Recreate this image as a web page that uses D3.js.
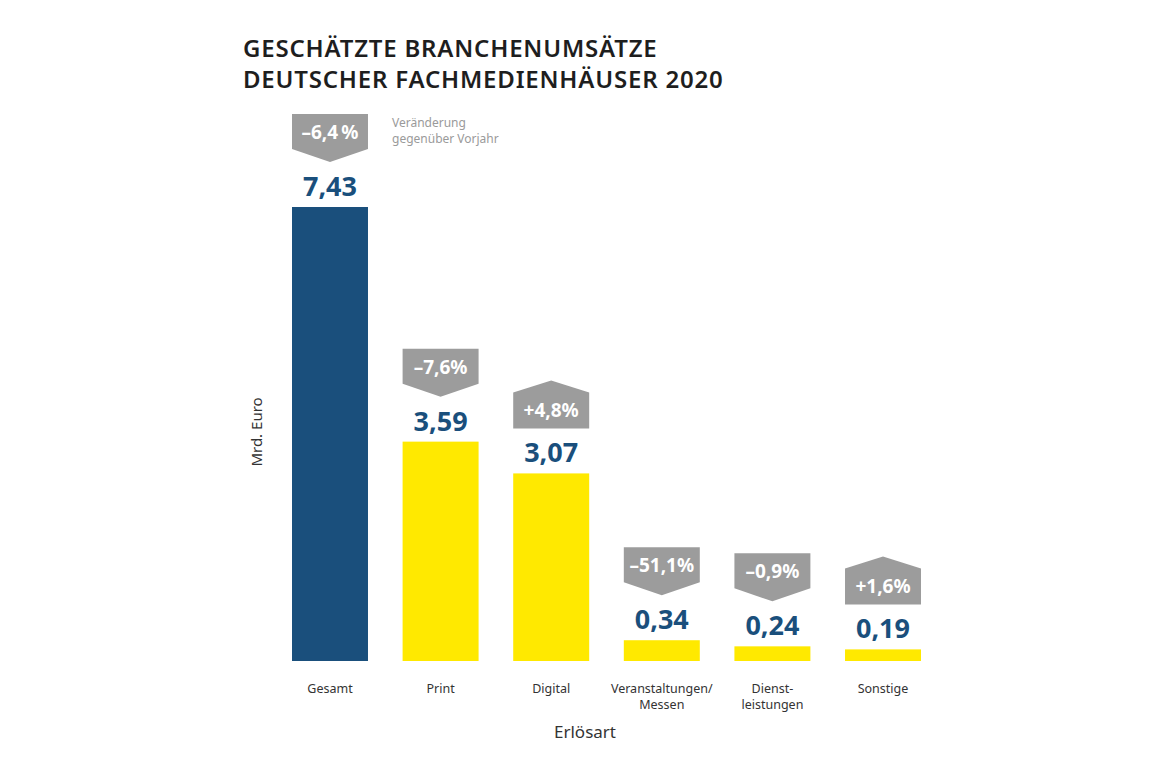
<!DOCTYPE html>
<html>
<head>
<meta charset="utf-8">
<script src="https://cdn.jsdelivr.net/npm/d3@7"></script>
<style>
	body { margin: 0; background: #fff; }
	svg { display: block; font-family: "Noto Sans", sans-serif; }
</style>
</head>
<body>
<svg id="chart" width="1172" height="768"></svg>
<script>
	var categories = [['Gesamt'], ['Print'], ['Digital'], ['Veranstaltungen/', 'Messen'], ['Dienst-', 'leistungen'], ['Sonstige']];
	var values = [7.43, 3.59, 3.07, 0.34, 0.24, 0.19];
	var changes = [-6.4, -7.6, 4.8, -51.1, -0.9, 1.6];
	var changeLabels = ['\u20136,4\u2009%', '\u20137,6%', '+4,8%', '\u201351,1%', '\u20130,9%', '+1,6%'];
	var valueLabels = ['7,43', '3,59', '3,07', '0,34', '0,24', '0,19'];

	var navy = '#1a4f7c', yellow = '#ffe900', grey = '#9c9c9c';

	var svg = d3.select('#chart');

	var x = d3.scaleBand()
		.domain(d3.range(categories.length))
		.range([292, 921])
		.paddingInner(0.313)
		.paddingOuter(0);

	var y = d3.scaleLinear()
		.domain([0, d3.max(values)])
		.range([661, 207]);

	// title
	svg.append('text')
		.attr('x', 243).attr('y', 57)
		.attr('font-size', 24).attr('font-weight', 600).attr('fill', '#1e1e1e')
		.attr('letter-spacing', 0.8)
		.text('GESCHÄTZTE BRANCHENUMSÄTZE');
	svg.append('text')
		.attr('x', 243).attr('y', 88)
		.attr('font-size', 24).attr('font-weight', 600).attr('fill', '#1e1e1e')
		.attr('letter-spacing', 0.8)
		.text('DEUTSCHER FACHMEDIENHÄUSER 2020');

	// bars
	svg.selectAll('rect.bar')
		.data(values)
		.enter()
		.append('rect')
			.attr('class', 'bar')
			.attr('x', (d, i) => x(i))
			.attr('y', (d) => y(d))
			.attr('width', x.bandwidth())
			.attr('height', (d) => y(0) - y(d))
			.attr('fill', (d, i) => i == 0 ? navy : yellow);

	// value labels
	svg.selectAll('text.val')
		.data(values)
		.enter()
		.append('text')
			.attr('class', 'val')
			.attr('x', (d, i) => x(i) + x.bandwidth() / 2)
			.attr('y', (d) => y(d) - 11)
			.attr('text-anchor', 'middle')
			.attr('font-size', 27).attr('font-weight', 700)
			.attr('fill', navy)
			.text((d, i) => valueLabels[i]);

	// change badges (arrow shape down for minus, up for plus)
	var bw = x.bandwidth();
	var badge = svg.selectAll('g.badge')
		.data(changes)
		.enter()
		.append('g')
			.attr('class', 'badge')
			.attr('transform', (d, i) => 'translate(' + x(i) + ',' + (y(values[i]) - 93) + ')');

	badge.append('path')
		.attr('fill', grey)
		.attr('d', function(d){
			if (d < 0) return 'M0,0H' + bw + 'V35L' + (bw / 2) + ',48L0,35Z';
			return 'M0,12L' + (bw / 2) + ',0L' + bw + ',12V48H0Z';
		});

	badge.append('text')
		.attr('x', bw / 2)
		.attr('y', (d) => d < 0 ? 25 : 37)
		.attr('text-anchor', 'middle')
		.attr('font-size', 19).attr('font-weight', 700)
		.attr('fill', '#fff')
		.text((d, i) => changeLabels[i]);

	// note next to first badge
	svg.append('text')
		.attr('x', 392).attr('y', 127)
		.attr('font-size', 12).attr('fill', '#9a9a9a')
		.text('Veränderung');
	svg.append('text')
		.attr('x', 392).attr('y', 143)
		.attr('font-size', 12).attr('fill', '#9a9a9a')
		.text('gegenüber Vorjahr');

	// category labels, one text per line
	var lines = [];
	categories.forEach(function(c, i){
		c.forEach(function(s, j){ lines.push({ i: i, j: j, s: s }); });
	});
	svg.selectAll('text.cat')
		.data(lines)
		.enter()
		.append('text')
			.attr('class', 'cat')
			.attr('text-anchor', 'middle')
			.attr('font-size', 12.5).attr('fill', '#333')
			.attr('x', (d) => x(d.i) + bw / 2)
			.attr('y', (d) => 693 + d.j * 15.5)
			.text((d) => d.s);

	// axis titles
	svg.append('text')
		.attr('x', 585).attr('y', 738)
		.attr('text-anchor', 'middle')
		.attr('font-size', 17).attr('fill', '#333')
		.text('Erlösart');
	svg.append('text')
		.attr('transform', 'translate(262,432) rotate(-90)')
		.attr('text-anchor', 'middle')
		.attr('font-size', 15).attr('fill', '#333')
		.text('Mrd. Euro');
</script>
</body>
</html>
